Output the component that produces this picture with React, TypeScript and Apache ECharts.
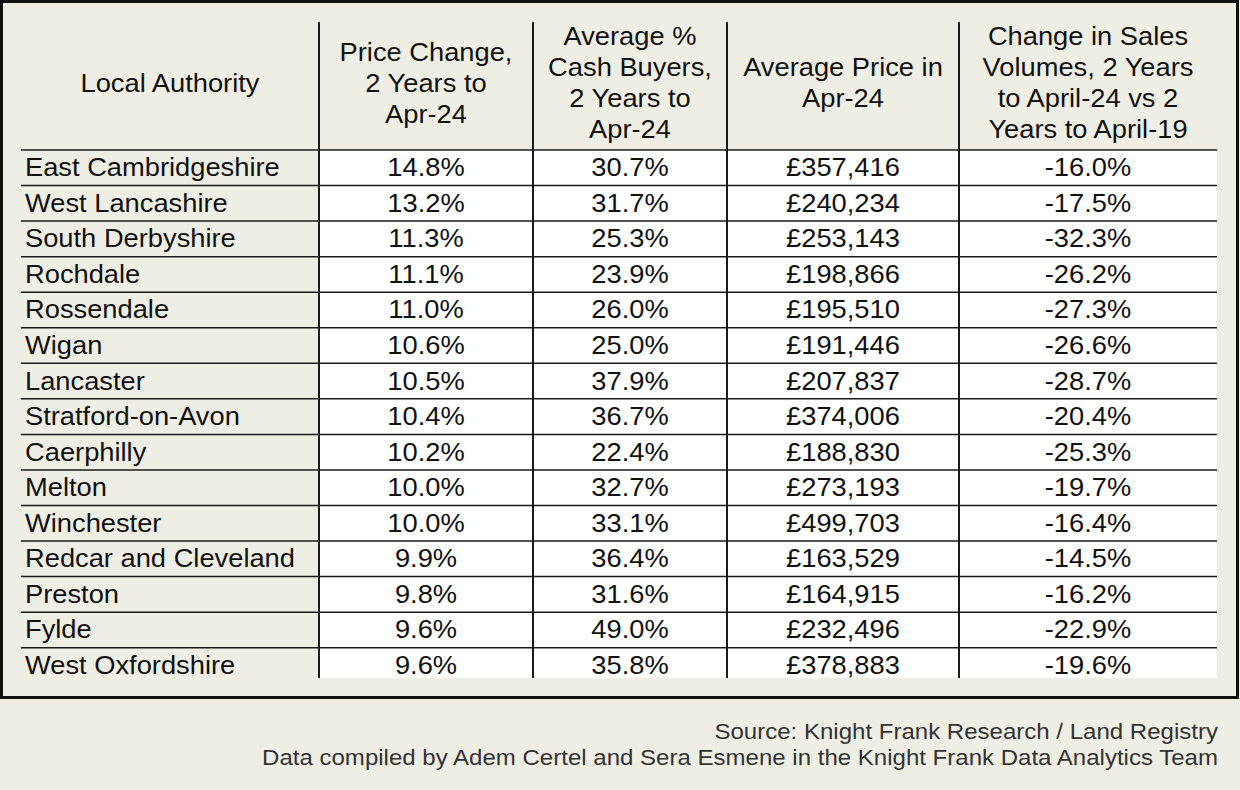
import React, { useEffect, useRef } from "react";
import * as echarts from "echarts";

const authorities = [
  "East Cambridgeshire", "West Lancashire", "South Derbyshire", "Rochdale", "Rossendale",
  "Wigan", "Lancaster", "Stratford-on-Avon", "Caerphilly", "Melton", "Winchester",
  "Redcar and Cleveland", "Preston", "Fylde", "West Oxfordshire",
];
const priceChange = [14.8, 13.2, 11.3, 11.1, 11.0, 10.6, 10.5, 10.4, 10.2, 10.0, 10.0, 9.9, 9.8, 9.6, 9.6];
const cashBuyers = [30.7, 31.7, 25.3, 23.9, 26.0, 25.0, 37.9, 36.7, 22.4, 32.7, 33.1, 36.4, 31.6, 49.0, 35.8];
const avgPrice = [357416, 240234, 253143, 198866, 195510, 191446, 207837, 374006, 188830, 273193, 499703, 163529, 164915, 232496, 378883];
const salesChange = [-16.0, -17.5, -32.3, -26.2, -27.3, -26.6, -28.7, -20.4, -25.3, -19.7, -16.4, -14.5, -16.2, -22.9, -19.6];

const headers = [
  ["Local Authority"],
  ["Price Change,", "2 Years to", "Apr-24"],
  ["Average %", "Cash Buyers,", "2 Years to", "Apr-24"],
  ["Average Price in", "Apr-24"],
  ["Change in Sales", "Volumes, 2 Years", "to April-24 vs 2", "Years to April-19"],
];
const footerLines = [
  "Source: Knight Frank Research / Land Registry",
  "Data compiled by Adem Certel and Sera Esmene in the Knight Frank Data Analytics Team",
];

export default function App() {
  const ref = useRef<HTMLDivElement>(null);
  useEffect(() => {
    document.body.style.margin = "0";
    const chart = echarts.init(ref.current!, null, { renderer: "svg" });
    const BG = "#EFEEE5";
    const FONT = "'Liberation Sans', Arial, Helvetica, sans-serif";
    const colEdges = [21, 319, 533, 727, 959, 1217];
    const headerTop = 22;
    const headerBottom = 150;
    const rowH = 35.55;
    const tableBottom = 678;
    const fs = 26;
    const sx = 1.05;
    const els: any[] = [];
    els.push({ type: "rect", shape: { x: 0, y: 0, width: 1240, height: 790 }, style: { fill: BG }, z: 0 });
    els.push({
      type: "rect",
      shape: { x: colEdges[1], y: headerBottom, width: colEdges[5] - colEdges[1], height: tableBottom - headerBottom },
      style: { fill: "#ffffff" }, z: 1,
    });
    for (let i = 0; i < authorities.length; i++) {
      const y = headerBottom + i * rowH;
      els.push({
        type: "line", shape: { x1: colEdges[0], y1: y, x2: colEdges[5], y2: y },
        style: { stroke: "#1a1a1a", lineWidth: 1.5 }, z: 2,
      });
    }
    for (let c = 1; c < 5; c++) {
      els.push({
        type: "line", shape: { x1: colEdges[c], y1: headerTop, x2: colEdges[c], y2: tableBottom },
        style: { stroke: "#1a1a1a", lineWidth: 2 }, z: 2,
      });
    }
    headers.forEach((lines, c) => {
      const cx = (colEdges[c] + colEdges[c + 1]) / 2;
      lines.forEach((t, i) => {
        els.push({
          type: "text", x: cx, y: 83 + (i - (lines.length - 1) / 2) * 31, scaleX: sx, z: 3,
          style: { text: t, fill: "#111", font: `${fs}px ${FONT}`, align: "center", verticalAlign: "middle" },
        });
      });
    });
    const cols = [
      authorities,
      priceChange.map((v) => v.toFixed(1) + "%"),
      cashBuyers.map((v) => v.toFixed(1) + "%"),
      avgPrice.map((v) => "£" + v.toLocaleString("en-GB")),
      salesChange.map((v) => v.toFixed(1) + "%"),
    ];
    cols.forEach((vals, c) => {
      vals.forEach((t, i) => {
        const cy = headerBottom + i * rowH + 17.5;
        const left = c === 0;
        els.push({
          type: "text", x: left ? 25 : (colEdges[c] + colEdges[c + 1]) / 2, y: cy, scaleX: sx, z: 3,
          style: { text: t, fill: "#111", font: `${fs}px ${FONT}`, align: left ? "left" : "center", verticalAlign: "middle" },
        });
      });
    });
    els.push({ type: "rect", shape: { x: 0, y: tableBottom, width: 1240, height: 22 }, style: { fill: BG }, z: 10 });
    els.push({
      type: "rect", shape: { x: 1.5, y: 1.5, width: 1236, height: 696 },
      style: { fill: "none", stroke: "#111", lineWidth: 3 }, z: 11,
    });
    footerLines.forEach((t, i) => {
      els.push({
        type: "text", x: 1218, y: 731.5 + i * 25.5, scaleX: 1.093, z: 12,
        style: { text: t, fill: "#333", font: `22px ${FONT}`, align: "right", verticalAlign: "middle" },
      });
    });
    chart.setOption({ animation: false, graphic: { elements: els } });
    return () => chart.dispose();
  }, []);
  return <div ref={ref} style={{ width: 1240, height: 790 }} />;
}
